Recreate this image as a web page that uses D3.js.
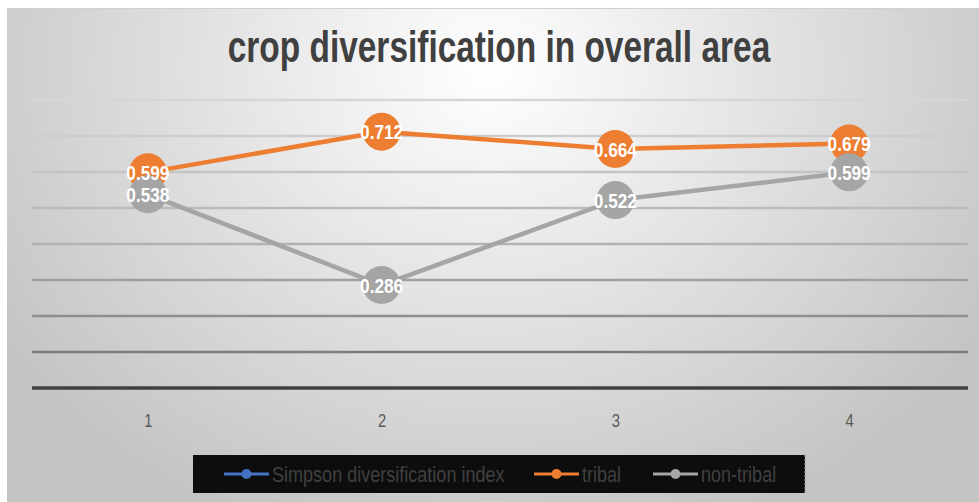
<!DOCTYPE html>
<html>
<head>
<meta charset="utf-8">
<script src="https://cdn.jsdelivr.net/npm/d3@7"></script>
<style>
  html, body { margin: 0; padding: 0; background: #fff; }
  svg { display: block; }
</style>
</head>
<body>
<div id="chart"></div>
<script>
// crop diversification line chart (two visible series + one empty legend entry)

var categories = ["1", "2", "3", "4"];
var seriesNames = ["Simpson diversification index", "tribal", "non-tribal"];
var simpsonValues = [];
var tribalValues = [0.599, 0.712, 0.664, 0.679];
var nonTribalValues = [0.538, 0.286, 0.522, 0.599];
var gridTicks = [0.1, 0.2, 0.3, 0.4, 0.5, 0.6, 0.7, 0.8];

var totalW = 979, totalH = 502;
var colors = { "Simpson diversification index": "#4472C4", "tribal": "#ED7D31", "non-tribal": "#A5A5A5" };
var fontFam = "'Liberation Sans', Arial, sans-serif";
var squeeze = 0.82; // no narrow font installed, so squeeze horizontally

function narrowAt(px, py, k) {
    return "translate(" + px + "," + py + ") scale(" + (k || squeeze) + ",1)";
}

var svg = d3.select("#chart").append("svg")
    .attr("width", totalW)
    .attr("height", totalH);

// background radial gradient
var defs = svg.append("defs");
var grad = defs.append("radialGradient")
    .attr("id", "bg")
    .attr("gradientUnits", "userSpaceOnUse")
    .attr("cx", 490).attr("cy", 70).attr("r", 580)
    .attr("gradientTransform", "translate(490,70) scale(1,0.85) translate(-490,-70)");
grad.append("stop").attr("offset", "0").attr("stop-color", "#ffffff");
grad.append("stop").attr("offset", "1").attr("stop-color", "#c4c4c4");

svg.append("rect")
    .attr("x", 7).attr("y", 8)
    .attr("width", totalW - 7).attr("height", totalH - 8)
    .attr("fill", "url(#bg)");
svg.append("line")
    .attr("x1", 7).attr("x2", totalW).attr("y1", 8.5).attr("y2", 8.5)
    .attr("stroke", "#d0d0d0").attr("stroke-width", 1);

// --- Title ---
svg.append("text")
    .attr("transform", narrowAt(499, 62, 0.76))
    .attr("text-anchor", "middle")
    .style("font-family", fontFam)
    .style("font-weight", "bold")
    .style("font-size", "44px")
    .style("fill", "#404040")
    .text("crop diversification in overall area");

// --- Scales ---
var x = d3.scalePoint()
    .domain(categories)
    .range([31, 966])
    .padding(0.5);

var y = d3.scaleLinear()
    .domain([0, 0.8])
    .range([388, 100]);

var gridColor = d3.scaleLinear()
    .domain([0.1, 0.4, 0.8])
    .range(["#7c7c7c", "#b2b2b2", "#d6d6d6"]);

// --- Grid lines ---
var grid = svg.append("g").attr("class", "grid");
grid.selectAll("line")
    .data(gridTicks)
    .enter().append("line")
    .attr("x1", 32).attr("x2", 968)
    .attr("y1", function(d) { return y(d); })
    .attr("y2", function(d) { return y(d); })
    .attr("stroke", function(d) { return gridColor(d); })
    .attr("stroke-width", 2.5);

// --- X axis ---
var xAxis = svg.append("g")
    .attr("class", "x-axis")
    .attr("transform", "translate(0," + y(0) + ")")
    .call(d3.axisBottom(x).tickSize(0).tickPadding(26));
xAxis.select(".domain").remove();
xAxis.append("line")
    .attr("x1", 32).attr("x2", 968)
    .attr("stroke", "#404040")
    .attr("stroke-width", 3.5);
xAxis.selectAll(".tick text")
    .attr("transform", "scale(" + squeeze + ",1)")
    .style("font-family", fontFam)
    .style("font-size", "18px")
    .style("fill", "#595959");

// --- Lines and markers ---
var series = [
    { name: seriesNames[0], values: simpsonValues },
    { name: seriesNames[1], values: tribalValues },
    { name: seriesNames[2], values: nonTribalValues }
];

var lineGen = d3.line()
    .x(function(d, i) { return x(categories[i]); })
    .y(function(d) { return y(d); });

var plot = svg.append("g").attr("class", "lines");
series.forEach(function(s) {
    if (!s.values.length) return;
    var sg = plot.append("g");
    sg.append("path")
        .datum(s.values)
        .attr("fill", "none")
        .attr("stroke", colors[s.name])
        .attr("stroke-width", 4.5)
        .attr("stroke-linejoin", "round")
        .attr("d", lineGen);
    sg.selectAll("circle")
        .data(s.values)
        .enter().append("circle")
        .attr("cx", function(d, i) { return x(categories[i]); })
        .attr("cy", function(d) { return y(d); })
        .attr("r", 19)
        .attr("fill", colors[s.name]);
});

// --- Data labels ---
var labels = svg.append("g").attr("class", "labels");
series.forEach(function(s) {
    labels.selectAll(null)
        .data(s.values)
        .enter().append("text")
        .attr("transform", function(d, i) { return narrowAt(x(categories[i]), y(d)); })
        .attr("dy", "0.36em")
        .attr("text-anchor", "middle")
        .style("font-family", fontFam)
        .style("font-size", "21px")
        .style("font-weight", "bold")
        .style("fill", "#ffffff")
        .text(function(d) { return d3.format(".3f")(d); });
});

// --- Legend ---
var legend = svg.append("g").attr("class", "legend");
legend.append("rect")
    .attr("x", 193).attr("y", 455)
    .attr("width", 612).attr("height", 38)
    .attr("fill", "#0d0d0d");
legend.append("line")
    .attr("x1", 805).attr("x2", 805).attr("y1", 455).attr("y2", 493)
    .attr("stroke", "#9a9a9a")
    .attr("stroke-width", 1.2)
    .attr("stroke-dasharray", "2,2");

var legendX = [224, 534, 653];
series.forEach(function(s, i) {
    var lg = legend.append("g")
        .attr("transform", "translate(" + legendX[i] + ",474)");
    lg.append("line")
        .attr("x1", 0).attr("x2", 45)
        .attr("stroke", colors[s.name])
        .attr("stroke-width", 3);
    lg.append("circle")
        .attr("cx", 22.5).attr("r", 5)
        .attr("fill", colors[s.name]);
    lg.append("text")
        .attr("transform", narrowAt(48, 0))
        .attr("dy", "0.35em")
        .style("font-family", fontFam)
        .style("font-size", "22px")
        .style("fill", "#404040")
        .text(s.name);
});
</script>
</body>
</html>
